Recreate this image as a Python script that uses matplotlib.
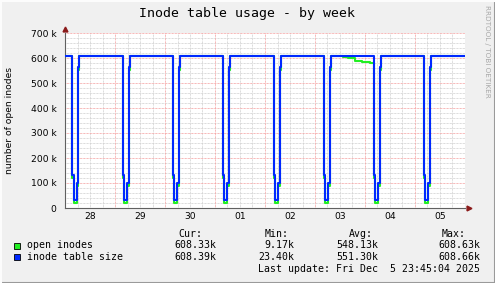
#!/usr/bin/env python3

import matplotlib
matplotlib.use("Agg")
import matplotlib.pyplot as plt
from matplotlib.lines import Line2D


# =========================================================
# DATA (hours since Nov 28 00:00)
# =========================================================
DAY_LABELS = ["28", "29", "30", "01", "02", "03", "04", "05"]
DIP_START_H = [3.4, 3.6, 3.7, 3.7, 4.2, 4.2, 4.2, 4.2]   # nightly dip start, hours after midnight

# shape of one nightly dip (hours after dip start)
DIP_T = [0.0, 0.7, 2.2, 2.9, 3.4]
DIP_SIZE = [132e3, 32e3, 100e3, 565e3, 608.4e3]      # inode table size
DIP_OPEN = [120e3, 20e3, 88e3, 552e3, 608.3e3]       # open inodes

# open inodes sag on Dec 3 afternoon
SAG_T = [133.6, 135.8, 139.2, 142.4, 146.4]
SAG_OPEN = [605e3, 599e3, 590e3, 583e3, 580e3]

BASE_SIZE = 608.4e3
BASE_OPEN = 608.3e3
END_H = 191.75

Y_TICKS = [0, 100e3, 200e3, 300e3, 400e3, 500e3, 600e3, 700e3]
Y_LABELS = ["0", "100 k", "200 k", "300 k", "400 k", "500 k", "600 k", "700 k"]

LEGEND_NAMES = ["open inodes", "inode table size"]
STAT_HEAD = ["Cur:", "Min:", "Avg:", "Max:"]
STAT_OPEN = ["608.33k", "9.17k", "548.13k", "608.63k"]
STAT_SIZE = ["608.39k", "23.40k", "551.30k", "608.66k"]
LAST_UPDATE = "Last update: Fri Dec  5 23:45:04 2025"

GREEN = "#22ee22"
BLUE = "#0028ff"

W, H = 495, 283


def build(base, dip_vals, extra_t=(), extra_v=()):
    t = [0.0]
    v = [base]
    for d, start in enumerate(DIP_START_H):
        for dt, val in zip(DIP_T, dip_vals):
            t.append(d * 24 + start + dt)
            v.append(val)
    for et, ev in zip(extra_t, extra_v):
        t.append(et)
        v.append(ev)
    pts = sorted(zip(t, v))
    t = [p[0] for p in pts] + [END_H]
    v = [p[1] for p in pts] + [pts[-1][1]]
    return t, v


def px(x, y):
    return x / W, 1 - y / H


# =========================================================
# FIGURE
# =========================================================
fig = plt.figure(figsize=(W / 100, H / 100), dpi=100)
fig.patch.set_facecolor("#f0f0f0")

ax = fig.add_axes([65 / W, (H - 208) / H, 400 / W, 175 / H])
ax.set_facecolor("white")
ax.set_xlim(0, 192)
ax.set_ylim(0, 700e3)

# grid
dot = (0, (0.72, 0.72))
for h in range(0, 193, 6):
    if h % 24:
        ax.axvline(h, color="#d0d0d0", lw=0.72, ls=dot, zorder=1)
for yv in range(0, 700001, 20000):
    if yv % 100000:
        ax.axhline(yv, color="#d0d0d0", lw=0.72, ls=dot, zorder=1)
for h in range(24, 193, 24):
    ax.axvline(h, color="#f4a0a0", lw=0.72, ls=dot, zorder=1)
for yv in Y_TICKS[1:]:
    ax.axhline(yv, color="#f4a0a0", lw=0.72, ls=dot, zorder=1)

# series
t_open, v_open = build(BASE_OPEN, DIP_OPEN, SAG_T, SAG_OPEN)
t_size, v_size = build(BASE_SIZE, DIP_SIZE)
ax.plot(t_open, v_open, drawstyle="steps-post", color=GREEN, lw=1.5, zorder=3)
ax.plot(t_size, v_size, drawstyle="steps-post", color=BLUE, lw=1.5, zorder=4)

# axes
for s in ["top", "right"]:
    ax.spines[s].set_visible(False)
for s in ["left", "bottom"]:
    ax.spines[s].set_color("#606060")
    ax.spines[s].set_linewidth(0.8)
ax.plot([0], [1.025], marker="^", color="#8b1a1a", ms=3.5, transform=ax.transAxes, clip_on=False)
ax.plot([1.01], [0], marker=">", color="#8b1a1a", ms=3.5, transform=ax.transAxes, clip_on=False)

ax.set_yticks(Y_TICKS)
ax.set_yticklabels(Y_LABELS)
ax.set_xticks([d * 24 + 12 for d in range(8)])
ax.set_xticklabels(DAY_LABELS)
ax.tick_params(axis="both", length=0, labelsize=6.6, colors="black")
ax.tick_params(axis="y", pad=6)
ax.tick_params(axis="x", pad=3)

ax.set_ylabel("number of open inodes", fontsize=6.6)
ax.yaxis.set_label_coords(-51 / 400, 0.5)

# =========================================================
# TEXT
# =========================================================
mono = "DejaVu Sans Mono"
fig.text(*px(247, 13), "Inode table usage - by week", ha="center", va="center",
         family=mono, fontsize=9.5)
fig.text(*px(487, 5), "RRDTOOL / TOBI OETIKER", rotation=270, ha="center", va="top",
         fontsize=5.2, color="#a8a8a8")

head_x = [202, 289, 373, 466]
val_x = [216, 294, 378, 480]
for hx, head in zip(head_x, STAT_HEAD):
    fig.text(*px(hx, 234), head, ha="right", va="center", family=mono, fontsize=7.1)

rows = [(245.5, GREEN, LEGEND_NAMES[0], STAT_OPEN),
        (257, BLUE, LEGEND_NAMES[1], STAT_SIZE)]
for y, col, name, stats in rows:
    fig.add_artist(plt.Rectangle(px(13.5, y + 3), 6 / W, 6 / H, facecolor=col,
                                 edgecolor="black", lw=0.6))
    fig.text(*px(27, y), name, ha="left", va="center", family=mono, fontsize=7.1)
    for vx, s in zip(val_x, stats):
        fig.text(*px(vx, y), s, ha="right", va="center", family=mono, fontsize=7.1)

fig.text(*px(480, 269.5), LAST_UPDATE, ha="right", va="center", family=mono, fontsize=7.1)

# frame shading
fig.add_artist(Line2D([0, 1], [0.5 / H, 0.5 / H], color="#9a9a9a", lw=1.5))
fig.add_artist(Line2D([1 - 0.5 / W, 1 - 0.5 / W], [0, 1], color="#9a9a9a", lw=1.5))
fig.add_artist(Line2D([0, 1], [1 - 0.5 / H, 1 - 0.5 / H], color="#fcfcfc", lw=1.5))
fig.add_artist(Line2D([0.5 / W, 0.5 / W], [0, 1], color="#fcfcfc", lw=1.5))

fig.savefig("out.png", dpi=100)
